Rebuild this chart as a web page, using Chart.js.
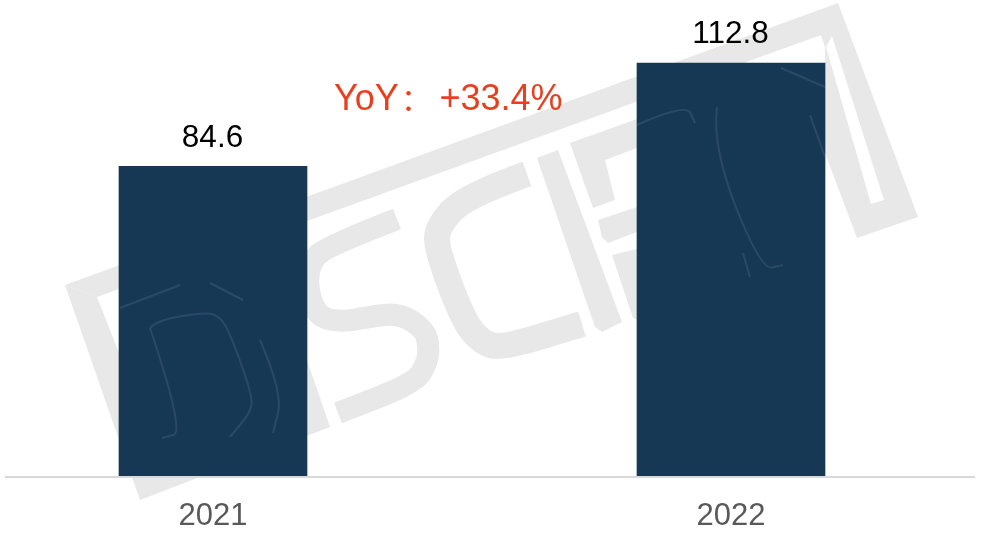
<!DOCTYPE html>
<html lang="en">
<head>
  <meta charset="UTF-8">
  <title>YoY</title>
  <script src="https://cdn.jsdelivr.net/npm/chart.js"></script>
  <style>
    html, body { margin: 0; padding: 0; background: #fff; overflow: hidden; }
    #wrap { position: absolute; left: -46px; top: 0; width: 1036px; height: 538px; }
  </style>
</head>
<body>
  <div id="wrap"><canvas id="salesChart" width="1036" height="538"></canvas></div>

  <script>
    const categories = ['2021', '2022'];
    const values = [84.6, 112.8];
    const growthParts = ['YoY', '：', '+33.4%'];

    const fontStack = '"Liberation Sans", "Noto Sans CJK SC", sans-serif';
    const shiftX = 46; // canvas starts 46px left of the page

    // watermark shapes, page coordinates
    const wmFills = [
      [[65,285],[838,3],[918,217],[857,238],[825,153],[825,47],[821,35],[97,297]], // frame
      [[65,285],[140,500],[330,427],[307,360],[300,360],[300,420],[165,470],[97,297]], // D
      [[537,158],[558,150],[622,322],[602,332],[595,327]], // I
      [[570,143],[637,119],[637,148],[605,160],[615,200],[593,208]],
      [[598,220],[637,207],[637,232],[608,243],[602,237]],
      [[612,255],[637,249],[637,320],[633,318]]
    ];
    const wmStrokes = [
      { w: 22, pts: [[397,219],[325,247],[310,263],[307,287],[317,317],[343,322],[368,317],[400,313],[425,330],[429,347],[427,363],[415,383],[338,413]] }, // S
      { w: 26, pts: [[527,174],[465,196],[437,227],[437,250],[463,320],[482,343],[503,348],[582,324]] } // C
    ];
    const wmSlit = [[826,47],[832,36],[884,200],[871,204]];
    // faint traces of the watermark on top of the bars
    const wmTraces = [
      [[150,328],[157,320],[207,312],[220,317],[230,333],[253,397],[250,413],[230,437]],
      [[150,328],[185,432],[162,438]],
      [[120,308],[180,285]],
      [[210,283],[243,300]],
      [[260,340],[283,393],[273,433]],
      [[717,107],[712,147],[761,270],[783,265]],
      [[810,115],[825,157]],
      [[781,68],[825,87]],
      [[637,125],[686,103],[695,123]],
      [[743,253],[750,277]]
    ];

    function tracePath(ctx, pts) {
      ctx.beginPath();
      pts.forEach((p, i) => i ? ctx.lineTo(p[0], p[1]) : ctx.moveTo(p[0], p[1]));
    }

    // same as tracePath but rounds the corners
    function smoothPath(ctx, pts) {
      ctx.beginPath();
      ctx.moveTo(pts[0][0], pts[0][1]);
      for (let i = 1; i < pts.length - 1; i++) {
        ctx.quadraticCurveTo(pts[i][0], pts[i][1], (pts[i][0] + pts[i + 1][0]) / 2, (pts[i][1] + pts[i + 1][1]) / 2);
      }
      const last = pts[pts.length - 1];
      ctx.lineTo(last[0], last[1]);
    }

    const watermark = {
      id: 'watermark',
      beforeDatasetsDraw(chart) {
        const ctx = chart.ctx;
        ctx.save();
        ctx.translate(shiftX, 0);
        ctx.fillStyle = '#e8e8e8';
        ctx.strokeStyle = '#e8e8e8';
        ctx.lineJoin = 'round';
        wmFills.forEach(pts => { tracePath(ctx, pts); ctx.closePath(); ctx.fill(); });
        wmStrokes.forEach(s => { ctx.lineWidth = s.w; smoothPath(ctx, s.pts); ctx.stroke(); });
        ctx.fillStyle = '#ffffff';
        tracePath(ctx, wmSlit); ctx.closePath(); ctx.fill();
        ctx.restore();
      }
    };

    // value above each bar, growth note, axis line, faint traces
    const extras = {
      id: 'extras',
      afterDatasetsDraw(chart) {
        const ctx = chart.ctx;
        const meta = chart.getDatasetMeta(0);
        ctx.save();
        ctx.strokeStyle = 'rgba(255,255,255,0.09)';
        ctx.lineWidth = 2;
        ctx.lineJoin = 'round';
        ctx.translate(shiftX, 0);
        wmTraces.forEach(pts => { smoothPath(ctx, pts); ctx.stroke(); });
        ctx.translate(-shiftX, 0);

        ctx.textAlign = 'center';
        ctx.textBaseline = 'alphabetic';
        ctx.fillStyle = '#000000';
        ctx.font = '31.5px ' + fontStack;
        meta.data.forEach((bar, i) => {
          ctx.fillText(values[i].toFixed(1), bar.x - 0.5, bar.y - 19.5);
        });

        ctx.fillStyle = '#e8401f';
        ctx.textAlign = 'left';
        ctx.font = '36px ' + fontStack;
        ctx.fillText(growthParts[0], 334 + shiftX, 110);
        ctx.fillText(growthParts[2], 439.5 + shiftX, 110);
        ctx.font = '30px "Noto Sans CJK SC"';
        ctx.fillText(growthParts[1], 401 + shiftX, 110);

        ctx.strokeStyle = '#d9d9d9';
        ctx.lineWidth = 2;
        ctx.beginPath();
        ctx.moveTo(5 + shiftX, chart.chartArea.bottom + 1);
        ctx.lineTo(975 + shiftX, chart.chartArea.bottom + 1);
        ctx.stroke();
        ctx.restore();
      }
    };

    new Chart(document.getElementById('salesChart').getContext('2d'), {
      type: 'bar',
      data: {
        labels: categories,
        datasets: [{
          data: values,
          backgroundColor: '#173855',
          barThickness: 188
        }]
      },
      options: {
        responsive: false,
        animation: false,
        layout: { padding: 0 },
        plugins: { legend: { display: false }, tooltip: { enabled: false } },
        scales: {
          x: {
            grid: { display: false },
            border: { display: false },
            afterFit(scale) { scale.height = 62; },
            ticks: {
              color: '#595959',
              padding: 14,
              maxRotation: 0,
              font: { family: fontStack, size: 31 }
            }
          },
          y: { display: false, min: 0, max: 130 }
        }
      },
      plugins: [watermark, extras]
    });
  </script>
</body>
</html>
